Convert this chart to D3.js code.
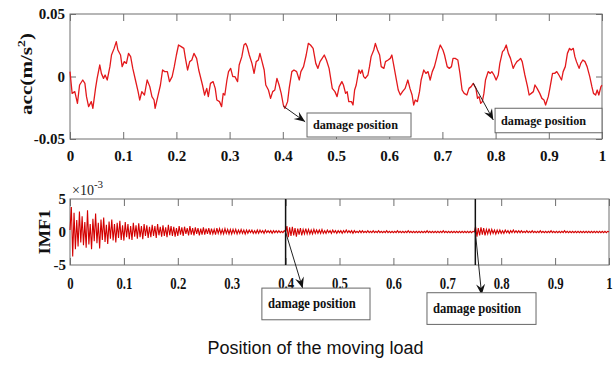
<!DOCTYPE html>
<html>
<head>
<meta charset="utf-8">
<script src="https://cdn.jsdelivr.net/npm/d3@7"></script>
<style>
  body { margin: 0; background: #fff; }
</style>
</head>
<body>
<div id="chart"></div>
<script>
// tick values
const xTicks = [0, 0.1, 0.2, 0.3, 0.4, 0.5, 0.6, 0.7, 0.8, 0.9, 1];
const accTicks = [-0.05, 0, 0.05];
const imfTicks = [-5, 0, 5];
const damageMarks = [0.4, 0.752];

// top trace: acceleration (m/s^2)
const accT = [
  0.000, 0.004, 0.009, 0.014, 0.018, 0.024, 0.028, 0.031, 0.035, 0.040, 0.043, 0.048, 0.051, 0.056, 0.059, 0.063,
  0.066, 0.070, 0.075, 0.078, 0.083, 0.087, 0.090, 0.095, 0.098, 0.102, 0.106, 0.110, 0.114, 0.118, 0.123, 0.128,
  0.131, 0.135, 0.140, 0.145, 0.150, 0.154, 0.158, 0.160, 0.165, 0.170, 0.174, 0.178, 0.183, 0.187, 0.192, 0.196,
  0.200, 0.204, 0.209, 0.214, 0.217, 0.221, 0.225, 0.229, 0.233, 0.238, 0.242,
  0.249, 0.253, 0.257, 0.260, 0.264, 0.269, 0.273, 0.276, 0.281, 0.285, 0.288, 0.291, 0.295, 0.298, 0.302, 0.306,
  0.310, 0.315, 0.318, 0.323, 0.327, 0.330, 0.333, 0.337, 0.342, 0.346, 0.350, 0.354, 0.357, 0.361, 0.365, 0.368,
  0.373, 0.377, 0.381, 0.385, 0.389, 0.393, 0.397, 0.401, 0.404, 0.409, 0.412, 0.417, 0.421, 0.426, 0.431, 0.434,
  0.439, 0.444, 0.448, 0.452, 0.457, 0.462, 0.466, 0.470, 0.474, 0.478, 0.482, 0.487,
  0.493, 0.498, 0.502, 0.506, 0.511, 0.514, 0.518, 0.521, 0.524, 0.529, 0.532, 0.535, 0.538, 0.543, 0.546, 0.549,
  0.552, 0.555, 0.560, 0.563, 0.566, 0.571, 0.574, 0.578, 0.582, 0.585, 0.590, 0.593, 0.598, 0.602, 0.605, 0.609,
  0.613, 0.617, 0.621, 0.625, 0.630, 0.635, 0.639, 0.643, 0.646, 0.649, 0.653, 0.657, 0.660, 0.665, 0.669, 0.673,
  0.677, 0.681, 0.685, 0.689, 0.692, 0.696, 0.701, 0.704, 0.709, 0.713, 0.717, 0.720, 0.724, 0.729, 0.733, 0.737,
  0.741, 0.746, 0.750, 0.754, 0.758, 0.763, 0.766, 0.769, 0.772, 0.775, 0.778, 0.781, 0.786, 0.790, 0.793, 0.797,
  0.801, 0.805, 0.808, 0.813, 0.816, 0.820, 0.824, 0.828, 0.833, 0.836, 0.840, 0.844, 0.847, 0.850, 0.855, 0.860,
  0.863, 0.867, 0.871, 0.874, 0.878, 0.883, 0.887, 0.891, 0.894, 0.899, 0.902, 0.907, 0.911, 0.915, 0.919, 0.924,
  0.927, 0.931, 0.935, 0.939, 0.942, 0.946, 0.949, 0.952, 0.957, 0.960, 0.964, 0.968, 0.972, 0.977, 0.981, 0.984,
  0.988, 0.991, 0.994, 0.998, 1.000
];
const accV = [
  0.0039, -0.0135, -0.0121, -0.0215, -0.0068, -0.0028, -0.0055, -0.0161, -0.0241, -0.0201, -0.0255, -0.0095, -0.0015, 0.0092, 0.0025, -0.0015,
  0.0012, -0.0028, 0.0079, 0.0172, 0.0225, 0.0279, 0.0212, 0.0172, 0.0079, 0.0119, 0.0105, 0.0185, 0.0159, 0.0065, -0.0028, -0.0121,
  -0.0188, -0.0121, -0.0148, -0.0028, -0.0081, -0.0161, -0.0188, -0.0255, -0.0161, -0.0068, 0.0052, 0.0039, 0.0039, -0.0041, -0.0001, 0.0079,
  0.0172, 0.0252, 0.0239, 0.0225, 0.0145, 0.0052, 0.0119, 0.0132, 0.0185, 0.0145, 0.0052,
  -0.0068, -0.0148, -0.0095, -0.0161, -0.0055, -0.0041, -0.0095, -0.0188, -0.0201, -0.0241, -0.0135, -0.0148, -0.0028, 0.0039, 0.0065, -0.0001,
  -0.0001, -0.0041, 0.0092, 0.0159, 0.0252, 0.0265, 0.0239, 0.0172, 0.0105, 0.0025, 0.0119, 0.0132, 0.0185, 0.0119, 0.0052, -0.0068,
  -0.0108, -0.0175, -0.0121, -0.0108, -0.0015, -0.0068, -0.0135, -0.0228, -0.0255, -0.0201, -0.0095, 0.0039, 0.0052, 0.0039, -0.0028, 0.0039,
  0.0079, 0.0172, 0.0265, 0.0252, 0.0225, 0.0105, 0.0065, 0.0119, 0.0145, 0.0172, 0.0132, 0.0065,
  -0.0095, -0.0121, -0.0161, -0.0081, -0.0041, -0.0068, -0.0135, -0.0121, -0.0201, -0.0201, -0.0228, -0.0108, -0.0068, 0.0052, 0.0025, 0.0052,
  -0.0001, -0.0015, 0.0012, 0.0079, 0.0159, 0.0212, 0.0265, 0.0212, 0.0172, 0.0079, 0.0065, 0.0119, 0.0132, 0.0145, 0.0172, 0.0079,
  -0.0015, -0.0108, -0.0148, -0.0121, -0.0095, -0.0028, -0.0095, -0.0148, -0.0228, -0.0188, -0.0201, -0.0121, -0.0028, 0.0052, 0.0025, 0.0039,
  -0.0028, 0.0039, 0.0079, 0.0145, 0.0199, 0.0252, 0.0212, 0.0172, 0.0079, 0.0065, 0.0079, 0.0145, 0.0145, 0.0132, 0.0025, -0.0108,
  -0.0135, -0.0148, -0.0095, -0.0081, -0.0055, -0.0095, -0.0175, -0.0161, -0.0215, -0.0201, -0.0135, -0.0028, 0.0039, 0.0025, 0.0039, 0.0012,
  -0.0028, 0.0012, 0.0105, 0.0199, 0.0212, 0.0252, 0.0185, 0.0145, 0.0065, 0.0092, 0.0119, 0.0132, 0.0145, 0.0119, 0.0012, -0.0081,
  -0.0148, -0.0135, -0.0121, -0.0068, -0.0095, -0.0135, -0.0175, -0.0188, -0.0228, -0.0161, -0.0095, 0.0025, 0.0025, 0.0039, 0.0012, -0.0028,
  0.0039, 0.0079, 0.0185, 0.0225, 0.0212, 0.0225, 0.0159, 0.0119, 0.0065, 0.0105, 0.0132, 0.0119, 0.0079, -0.0001, -0.0081, -0.0135,
  -0.0148, -0.0108, -0.0148, -0.0081, -0.0070
];

// bottom trace: IMF1 (x10^-3), one sample every imfStep
const imfStep = 0.0025;
const imfV = [
  0.3, 3.8, -3.7, 2.9, -2.6, 1.8, -2.2, 3.1, -1.6, 2.4, -2.0, 1.5, -2.4, 3.3, -1.9, 1.2, -2.6, 2.0, -1.4, 2.8,
  -1.7, 1.4, -2.5, 1.9, -1.2, 2.2, -1.5, 1.1, -1.8, 1.6, -1.0, 1.9, -1.3, 1.2, -1.6, 1.4, -0.9, 1.7, -1.2, 1.0,
  -1.3, 1.5, -0.8, 1.2, -1.1, 0.9, -1.2, 1.4, -0.7, 1.0, -1.0, 1.3, -0.8, 0.9, -1.1, 1.2, -0.6, 1.0, -0.9, 0.8,
  -0.8, 1.1, -0.6, 0.9, -0.9, 1.2, -0.5, 0.8, -0.7, 1.0, -0.6, 0.7, -0.8, 1.1, -0.5, 0.9, -0.6, 0.8, -0.7, 0.6,
  -0.6, 0.9, -0.4, 0.7, -0.6, 0.8, -0.3, 0.6, -0.5, 0.9, -0.4, 0.6, -0.5, 0.7, -0.3, 0.6, -0.5, 0.5, -0.4, 0.7,
  -0.4, 0.5, -0.3, 0.6, -0.4, 0.5, -0.3, 0.4, -0.4, 0.6, -0.2, 0.5, -0.3, 0.4, -0.3, 0.5, -0.2, 0.4, -0.3, 0.4,
  -0.3, 0.4, -0.2, 0.4, -0.3, 0.3, -0.2, 0.4, -0.2, 0.3, -0.3, 0.3, -0.2, 0.3, -0.1, 0.3, -0.2, 0.2, -0.2, 0.3,
  -0.2, 0.3, -0.1, 0.2, -0.2, 0.3, -0.1, 0.2, -0.1, 0.2, -0.2, 0.2, -0.1, 0.2, -0.1, 0.2, -0.1, 0.1, -0.1, 0.2,
  0.0, 0.9, -0.8, 0.7, -0.6, 0.8, -0.5, 0.6, -0.7, 0.5, -0.4, 0.6, -0.5, 0.4, -0.3, 0.5, -0.3, 0.4, -0.3, 0.3,
  -0.3, 0.4, -0.2, 0.3, -0.2, 0.3, -0.2, 0.4, -0.2, 0.2, -0.2, 0.3, -0.1, 0.2, -0.2, 0.3, -0.1, 0.2, -0.2, 0.2,
  -0.1, 0.2, -0.2, 0.2, -0.1, 0.3, -0.1, 0.2, -0.1, 0.2, -0.2, 0.2, -0.1, 0.1, -0.1, 0.2, -0.1, 0.2, -0.1, 0.1,
  -0.1, 0.2, -0.1, 0.1, -0.1, 0.2, -0.1, 0.1, -0.1, 0.2, -0.1, 0.1, -0.1, 0.1, -0.1, 0.2, -0.1, 0.1, -0.1, 0.1,
  -0.1, 0.1, -0.1, 0.2, -0.1, 0.1, -0.1, 0.1, -0.1, 0.1, -0.1, 0.2, -0.1, 0.1, -0.1, 0.1, -0.1, 0.1, -0.1, 0.1,
  -0.1, 0.1, -0.1, 0.1, -0.1, 0.2, -0.1, 0.1, -0.1, 0.1, -0.1, 0.1, -0.1, 0.1, -0.1, 0.1, -0.1, 0.2, -0.1, 0.1,
  -0.1, 0.1, -0.1, 0.1, -0.1, 0.1, -0.1, 0.1, -0.1, 0.1, -0.1, 0.1, -0.1, 0.1, -0.1, 0.1, -0.1, 0.1, -0.1, 0.1,
  0.0, 0.8, -0.7, 0.6, -0.5, 0.7, -0.4, 0.6, -0.5, 0.4, -0.3, 0.5, -0.3, 0.4, -0.2, 0.3, -0.3, 0.3, -0.2, 0.3,
  -0.2, 0.2, -0.2, 0.3, -0.1, 0.2, -0.2, 0.2, -0.1, 0.3, -0.1, 0.2, -0.1, 0.2, -0.1, 0.2, -0.1, 0.1, -0.1, 0.2,
  -0.1, 0.1, -0.1, 0.2, -0.1, 0.1, -0.1, 0.1, -0.1, 0.2, -0.1, 0.1, -0.1, 0.1, -0.1, 0.1, -0.1, 0.2, -0.1, 0.1,
  -0.1, 0.1, -0.1, 0.1, -0.1, 0.1, -0.1, 0.2, -0.1, 0.1, -0.1, 0.1, -0.1, 0.1, -0.1, 0.1, -0.1, 0.1, -0.1, 0.1,
  -0.1, 0.1, -0.1, 0.1, -0.1, 0.1, -0.1, 0.1, -0.1, 0.1, -0.1, 0.1, -0.1, 0.1, -0.1, 0.1, -0.1, 0.1, -0.1, 0.1,
  0.0
];

const serif = "'Liberation Serif', 'Times New Roman', serif";
const label = "damage position";

const svg = d3.select("#chart").append("svg")
  .attr("width", 613)
  .attr("height", 365);

const x1 = d3.scaleLinear().domain([0, 1]).range([70, 602]);
const y1 = d3.scaleLinear().domain([-0.05, 0.05]).range([139, 14]);
const x2 = d3.scaleLinear().domain([0, 1]).range([70, 609]);
const y2 = d3.scaleLinear().domain([-5, 5]).range([265, 199]);

function styleAxis(g, size) {
  g.select(".domain").remove();
  g.selectAll(".tick line").attr("stroke", "#6e6e6e");
  g.selectAll(".tick text")
    .attr("font-family", serif)
    .attr("font-weight", "bold")
    .attr("font-size", size)
    .attr("fill", "#111");
}

function frame(x, y) {
  svg.append("rect")
    .attr("x", x.range()[0])
    .attr("y", y.range()[1])
    .attr("width", x.range()[1] - x.range()[0])
    .attr("height", y.range()[0] - y.range()[1])
    .attr("fill", "none")
    .attr("stroke", "#6e6e6e")
    .attr("stroke-width", 1);
}

function arrow(xa, ya, xb, yb) {
  svg.append("line")
    .attr("x1", xa).attr("y1", ya)
    .attr("x2", xb).attr("y2", yb)
    .attr("stroke", "#222")
    .attr("stroke-width", 1);
  const a = Math.atan2(yb - ya, xb - xa);
  const len = 11, half = 4.5, notch = 7;
  const p = (d, s) => [xb - d * Math.cos(a) - s * Math.sin(a), yb - d * Math.sin(a) + s * Math.cos(a)];
  const pts = [[xb, yb], p(len, half), p(notch, 0), p(len, -half)];
  svg.append("path")
    .attr("d", "M" + pts.map(q => q.join(",")).join("L") + "Z")
    .attr("fill", "#111");
}

function textBox(x0, y0, x1b, y1b, size, tl) {
  svg.append("rect")
    .attr("x", x0).attr("y", y0)
    .attr("width", x1b - x0).attr("height", y1b - y0)
    .attr("fill", "#fff")
    .attr("stroke", "#666")
    .attr("stroke-width", 1);
  svg.append("text")
    .attr("x", x0 + 6)
    .attr("y", (y0 + y1b) / 2 + size * 0.3)
    .attr("font-family", serif)
    .attr("font-weight", "bold")
    .attr("font-size", size)
    .attr("textLength", tl)
    .attr("lengthAdjust", "spacingAndGlyphs")
    .attr("fill", "#111")
    .text(label);
}

// ---------- top panel ----------
frame(x1, y1);

svg.append("g")
  .attr("transform", "translate(0,139)")
  .call(d3.axisBottom(x1).tickValues(xTicks).tickSize(-7).tickPadding(11).tickFormat(d => d))
  .call(g => styleAxis(g, 15));
svg.append("g")
  .attr("transform", "translate(0,14)")
  .call(d3.axisTop(x1).tickValues(xTicks).tickSize(-7).tickFormat(""))
  .call(g => styleAxis(g, 15));
svg.append("g")
  .attr("transform", "translate(70,0)")
  .call(d3.axisLeft(y1).tickValues(accTicks).tickSize(-6).tickPadding(5).tickFormat(d => d))
  .call(g => styleAxis(g, 15));
svg.append("g")
  .attr("transform", "translate(602,0)")
  .call(d3.axisRight(y1).tickValues(accTicks).tickSize(-6).tickFormat(""))
  .call(g => styleAxis(g, 15));

const accLine = d3.line()
  .x((d, i) => x1(accT[i]))
  .y(d => y1(d));

svg.append("path")
  .datum(accV)
  .attr("d", accLine)
  .attr("fill", "none")
  .attr("stroke", "#e3191c")
  .attr("stroke-width", 1.3)
  .attr("stroke-linejoin", "round");

const accTitle = svg.append("text")
  .attr("transform", "translate(32,74) rotate(-90)")
  .attr("text-anchor", "middle")
  .attr("font-family", serif)
  .attr("font-weight", "bold")
  .attr("font-size", 17)
  .attr("textLength", 82)
  .attr("lengthAdjust", "spacingAndGlyphs")
  .attr("fill", "#111");
accTitle.append("tspan").text("acc(m/s");
accTitle.append("tspan").attr("font-size", 11).attr("dy", -7).text("2");
accTitle.append("tspan").attr("dy", 7).text(")");

// top annotations
arrow(x1(0.401), y1(-0.0237), x1(0.442), y1(-0.0362));
textBox(x1(0.4455), y1(-0.0292), x1(0.641), y1(-0.0484), 13.5, 85);
arrow(x1(0.758), y1(-0.0054), x1(0.7957), y1(-0.0348));
textBox(x1(0.799), y1(-0.0254), x1(1.0), y1(-0.045), 13.5, 85);

// ---------- bottom panel ----------
frame(x2, y2);

svg.append("g")
  .attr("transform", "translate(0,265)")
  .call(d3.axisBottom(x2).tickValues(xTicks).tickSize(-7).tickPadding(12).tickFormat(d => d))
  .call(g => styleAxis(g, 17))
  .call(g => g.selectAll(".tick text").attr("transform", "scale(0.75,1)"));
svg.append("g")
  .attr("transform", "translate(0,199)")
  .call(d3.axisTop(x2).tickValues(xTicks).tickSize(-7).tickFormat(""))
  .call(g => styleAxis(g, 15));
svg.append("g")
  .attr("transform", "translate(70,0)")
  .call(d3.axisLeft(y2).tickValues(imfTicks).tickSize(0).tickPadding(4).tickFormat(d => d))
  .call(g => styleAxis(g, 15));

const imfLine = d3.line()
  .x((d, i) => x2(i * imfStep))
  .y(d => y2(d));

svg.append("path")
  .datum(imfV)
  .attr("d", imfLine)
  .attr("fill", "none")
  .attr("stroke", "#d40000")
  .attr("stroke-width", 1.1);

svg.selectAll(".damage-line")
  .data(damageMarks)
  .join("line")
  .attr("class", "damage-line")
  .attr("x1", d => x2(d)).attr("x2", d => x2(d))
  .attr("y1", 199).attr("y2", 265)
  .attr("stroke", "#111")
  .attr("stroke-width", 1.5);

svg.append("text")
  .attr("x", 72)
  .attr("y", 195)
  .attr("font-family", serif)
  .attr("font-size", 14)
  .attr("fill", "#222")
  .text("\u00d710")
  .append("tspan")
  .attr("font-size", 11)
  .attr("dy", -7)
  .text("-3");

svg.append("text")
  .attr("transform", "translate(50,232) rotate(-90)")
  .attr("text-anchor", "middle")
  .attr("font-family", serif)
  .attr("font-weight", "bold")
  .attr("font-size", 16)
  .attr("textLength", 45)
  .attr("lengthAdjust", "spacingAndGlyphs")
  .attr("fill", "#111")
  .text("IMF1");

// bottom annotations
arrow(x2(0.4), y2(0), x2(0.4317), y2(-8.53));
textBox(x2(0.356), y2(-8.5), x2(0.5566), y2(-13.3), 15, 88);
arrow(x2(0.752), y2(0), x2(0.7638), y2(-9.55));
textBox(x2(0.6623), y2(-9.2), x2(0.8646), y2(-14.0), 15, 88);

// shared x title
svg.append("text")
  .attr("x", 315.5)
  .attr("y", 354)
  .attr("text-anchor", "middle")
  .attr("font-family", "'Liberation Sans', Arial, sans-serif")
  .attr("font-size", 18)
  .attr("fill", "#111")
  .text("Position of the moving load");
</script>
</body>
</html>
